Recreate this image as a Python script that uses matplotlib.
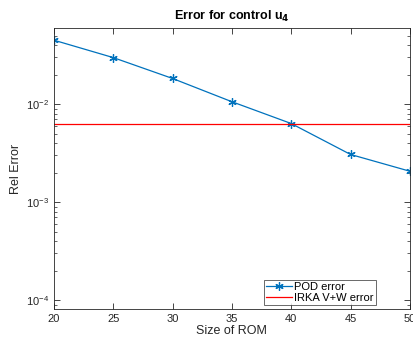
import matplotlib
matplotlib.use("Agg")
import matplotlib.pyplot as plt
import numpy as np

plt.rcParams['font.family'] = ['Liberation Sans', 'DejaVu Sans']

rom_sizes = [20, 25, 30, 35, 40, 45, 50]
pod_error = [0.045, 0.0299, 0.0183, 0.0106, 0.00635, 0.00307, 0.00207]
irka_error = 0.00635

fig = plt.figure(figsize=(4.14, 3.43), dpi=100)
ax = fig.add_axes([0.130, 0.099, 0.860, 0.819])

ax.plot(rom_sizes, pod_error, color='#0072BD', marker=(6, 2, 0), markersize=6,
        markeredgewidth=0.9, linewidth=0.9, label='POD error')
ax.axhline(irka_error, color='red', linewidth=0.9, label='IRKA V+W error')

ax.set_yscale('log')
ax.set_xlim(20, 50)
ax.set_ylim(10**-4.09, 10**-1.224)
ax.set_xticks([20, 25, 30, 35, 40, 45, 50])
ax.set_yticks([1e-4, 1e-3, 1e-2])

ax.tick_params(which='both', direction='in', top=True, right=True,
               labelsize=8, colors='#262626')
ax.tick_params(which='major', length=4, width=0.6)
ax.tick_params(which='minor', length=2, width=0.5)
for s in ax.spines.values():
    s.set_linewidth(0.6)
    s.set_color('#262626')

ax.set_xlabel('Size of ROM', fontsize=9, color='#262626', labelpad=1)
ax.set_ylabel('Rel Error', fontsize=9, color='#262626', labelpad=3)
ax.set_title(r'Error for control u$_{\mathbf{4}}$', fontsize=9, fontweight='bold', pad=6)

leg = ax.legend(loc='lower right', bbox_to_anchor=(0.904, 0.014), fontsize=8,
                frameon=True, fancybox=False, edgecolor='#262626', borderpad=0.2,
                handlelength=2.3, handletextpad=0.2, labelspacing=0.1,
                borderaxespad=0.0)
leg.get_frame().set_linewidth(0.6)

fig.savefig('out.png', dpi=100)
